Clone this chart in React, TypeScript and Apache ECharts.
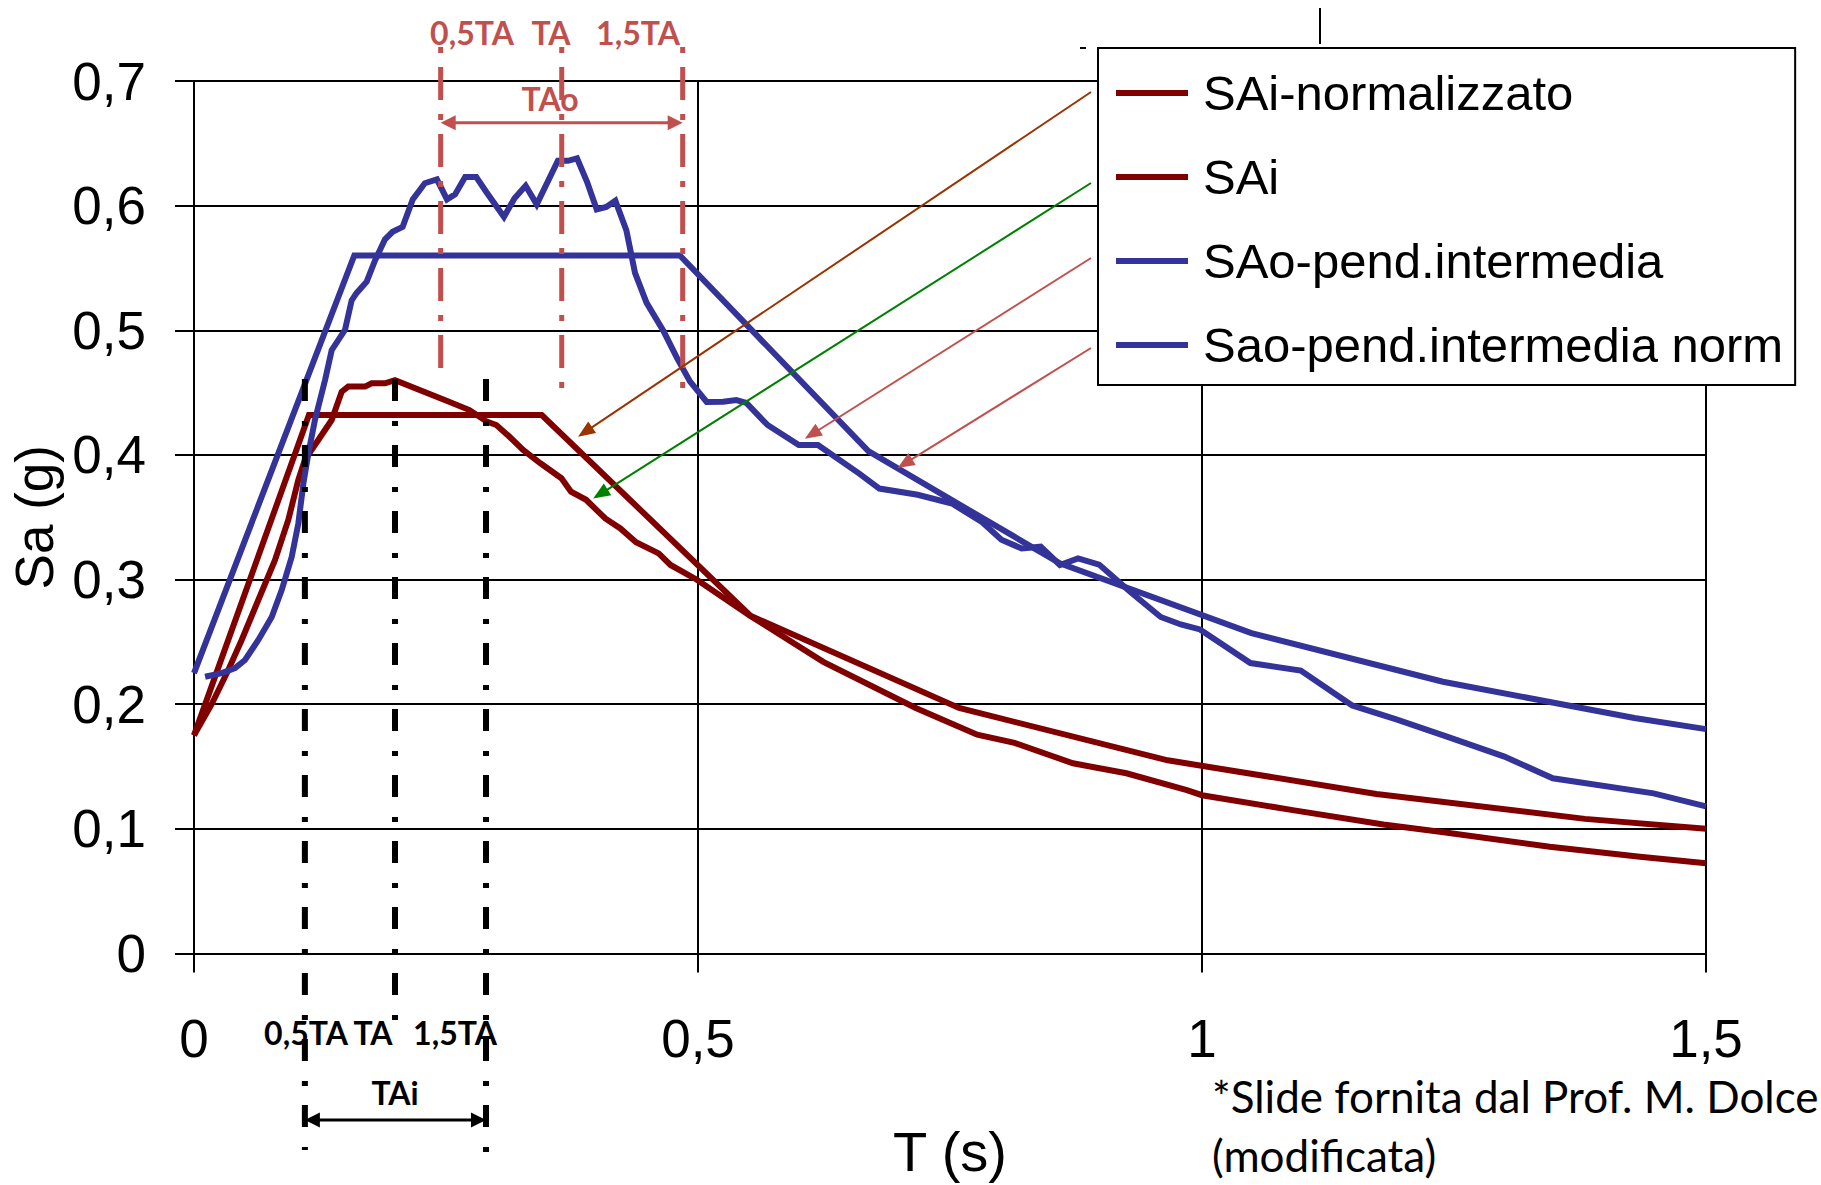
import { useEffect, useRef } from 'react';
import * as echarts from 'echarts';

// ---- axis ticks ----
const xTickValues = [0, 0.5, 1, 1.5];
const xTickLabels = ['0', '0,5', '1', '1,5'];
const yTickValues = [0, 0.1, 0.2, 0.3, 0.4, 0.5, 0.6, 0.7];
const yTickLabels = ['0', '0,1', '0,2', '0,3', '0,4', '0,5', '0,6', '0,7'];

// ---- series ----
const seriesNames = ['SAi-normalizzato', 'SAi', 'SAo-pend.intermedia', 'Sao-pend.intermedia norm'];
const seriesColors = ['#800000', '#800000', '#333399', '#333399'];

const saiNormT = [0, 0.114, 0.345, 0.552, 0.759, 0.966, 1.173, 1.38, 1.5];
const saiNormV = [0.175, 0.432, 0.432, 0.271, 0.197, 0.155, 0.128, 0.108, 0.1];

const saiT = [0, 0.0175, 0.034, 0.0473, 0.0638, 0.0804, 0.0936, 0.1035, 0.11, 0.1233,
  0.1366, 0.1465, 0.153, 0.1696, 0.1763, 0.1895, 0.1994, 0.2487, 0.2733, 0.2905,
  0.3, 0.313, 0.3265, 0.3437, 0.3645, 0.374, 0.389, 0.408, 0.423, 0.4385,
  0.461, 0.4727, 0.4993, 0.5516, 0.6243, 0.716, 0.777, 0.814, 0.872, 0.925,
  0.985, 1.0, 1.09, 1.18, 1.236, 1.345, 1.4345, 1.5];
const saiV = [0.175, 0.2, 0.2275, 0.2515, 0.2836, 0.3157, 0.348, 0.38, 0.396, 0.412,
  0.428, 0.4507, 0.4548, 0.4548, 0.4575, 0.4575, 0.46, 0.444, 0.436, 0.4267,
  0.424, 0.4146, 0.404, 0.3933, 0.3813, 0.3705, 0.364, 0.349, 0.341, 0.33,
  0.321, 0.3117, 0.2997, 0.271, 0.234, 0.197, 0.1755, 0.169, 0.1526, 0.1446,
  0.131, 0.127, 0.115, 0.1035, 0.0977, 0.0857, 0.0777, 0.0724];

const saoT = [0.011, 0.0275, 0.0407, 0.0506, 0.0638, 0.0771, 0.087, 0.0969, 0.1035, 0.1085,
  0.1134, 0.12, 0.13, 0.1366, 0.1498, 0.1564, 0.1614, 0.1713, 0.1796, 0.1895,
  0.197, 0.207, 0.217, 0.229, 0.241, 0.251, 0.259, 0.269, 0.28, 0.29,
  0.3075, 0.318, 0.329, 0.34, 0.361, 0.371, 0.38, 0.39, 0.3995, 0.409,
  0.418, 0.429, 0.4375, 0.449, 0.466, 0.479, 0.492, 0.5086, 0.525, 0.538,
  0.548, 0.569, 0.6, 0.619, 0.66, 0.68, 0.718, 0.752, 0.782, 0.801,
  0.821, 0.84, 0.859, 0.877, 0.898, 0.929, 0.959, 0.979, 0.998, 1.048,
  1.098, 1.149, 1.192, 1.243, 1.3, 1.348, 1.448, 1.5];
const saoV = [0.222, 0.225, 0.229, 0.2355, 0.2515, 0.27, 0.2916, 0.318, 0.345, 0.377,
  0.401, 0.428, 0.46, 0.484, 0.5003, 0.524, 0.53, 0.539, 0.556, 0.573,
  0.579, 0.583, 0.605, 0.618, 0.621, 0.605, 0.609, 0.623, 0.623, 0.611,
  0.591, 0.606, 0.616, 0.601, 0.636, 0.636, 0.638, 0.619, 0.597, 0.599,
  0.604, 0.58, 0.546, 0.522, 0.499, 0.478, 0.459, 0.4425, 0.4427, 0.444,
  0.4417, 0.424, 0.408, 0.408, 0.385, 0.373, 0.368, 0.361, 0.346, 0.332,
  0.325, 0.3264, 0.3117, 0.317, 0.312, 0.29, 0.27, 0.264, 0.26, 0.233,
  0.227, 0.199, 0.188, 0.174, 0.158, 0.1406, 0.1285, 0.118];

const saoNormT = [0, 0.159, 0.482, 0.669, 0.859, 1.049, 1.239, 1.429, 1.5];
const saoNormV = [0.225, 0.56, 0.56, 0.403, 0.313, 0.257, 0.218, 0.189, 0.18];

// ---- annotations ----
const taoMarkerT = [0.2447, 0.3648, 0.4848];
const taoLabels = ['0,5TA', 'TA', '1,5TA'];
const taiMarkerT = [0.11, 0.1994, 0.2897];
const taiLabels = ['0,5TA', 'TA', '1,5TA'];
const pointerTips = [[0.381, 0.4146], [0.396, 0.365], [0.606, 0.413], [0.698, 0.3895]];
const pointerColors = ['#993300', '#008000', '#C0504D', '#C0504D'];

const ANNO_RED = '#C0504D';
const AXIS_FONT = "'Liberation Sans', Arial, sans-serif";
const NOTE_FONT = "Lato, 'Open Sans', sans-serif";

const zip = (t: number[], v: number[]) => t.map((x, i) => [x, v[i]]);
const fmt = (vals: number[], labels: string[]) => (v: number) => {
  const i = vals.findIndex((t) => Math.abs(t - v) < 1e-9);
  return i >= 0 ? labels[i] : '';
};

function arrowHead(tip: number[], from: number[], len: number, halfW: number, color: string) {
  const dx = tip[0] - from[0];
  const dy = tip[1] - from[1];
  const d = Math.hypot(dx, dy) || 1;
  const ux = dx / d, uy = dy / d;
  const bx = tip[0] - ux * len, by = tip[1] - uy * len;
  const nx = -uy, ny = ux;
  return {
    type: 'polygon',
    shape: { points: [[tip[0], tip[1]], [bx + nx * halfW, by + ny * halfW], [bx - nx * halfW, by - ny * halfW]] },
    style: { fill: color },
    z: 20,
  };
}

export default function App() {
  const ref = useRef<HTMLDivElement>(null);
  useEffect(() => {
    if (!ref.current) return;
    const chart = echarts.init(ref.current, null, { renderer: 'svg' });
    const dataSets = [zip(saiNormT, saiNormV), zip(saiT, saiV), zip(saoT, saoV), zip(saoNormT, saoNormV)];
    chart.setOption({
      animation: false,
      backgroundColor: '#ffffff',
      grid: { left: 194, top: 81, width: 1512, height: 872.5, containLabel: false, outerBoundsMode: 'none' },
      xAxis: {
        type: 'value', min: 0, max: 1.5, interval: 0.5,
        name: 'T (s)', nameLocation: 'middle', nameGap: 170,
        nameTextStyle: { fontSize: 56, fontFamily: AXIS_FONT, color: '#000' },
        axisLine: { show: true, lineStyle: { color: '#000', width: 2 } },
        axisTick: { show: true, inside: false, length: 19, lineStyle: { color: '#000', width: 2 } },
        axisLabel: { margin: 58, fontSize: 53, fontFamily: AXIS_FONT, color: '#000', formatter: fmt(xTickValues, xTickLabels) },
        splitLine: { show: true, lineStyle: { color: '#000', width: 2 } },
      },
      yAxis: {
        type: 'value', min: 0, max: 0.7, interval: 0.1,
        name: 'Sa (g)', nameLocation: 'middle', nameGap: 128,
        nameTextStyle: { fontSize: 53, fontFamily: AXIS_FONT, color: '#000' },
        axisLine: { show: true, lineStyle: { color: '#000', width: 2 } },
        axisTick: { show: true, inside: false, length: 19, lineStyle: { color: '#000', width: 2 } },
        axisLabel: { margin: 48, fontSize: 53, fontFamily: AXIS_FONT, color: '#000', formatter: fmt(yTickValues, yTickLabels) },
        splitLine: { show: true, lineStyle: { color: '#000', width: 2 } },
      },
      legend: {
        orient: 'vertical', left: 1098, top: 48,
        itemWidth: 72, itemHeight: 6, itemGap: 34, icon: 'rect',
        padding: [20, 12, 15, 18],
        backgroundColor: '#ffffff', borderColor: '#000', borderWidth: 2,
        selectedMode: false,
        textStyle: { fontSize: 49, fontFamily: AXIS_FONT, color: '#000', lineHeight: 50, padding: [0, 0, 0, 10] },
        data: seriesNames,
      },
      series: seriesNames.map((name, i) => ({
        name, type: 'line', data: dataSets[i], symbol: 'none', showSymbol: false,
        color: seriesColors[i],
        lineStyle: { color: seriesColors[i], width: 6, join: 'miter' },
        z: 3,
      })),
    });

    const P = (t: number, v: number) => chart.convertToPixel({ gridIndex: 0 }, [t, v]) as number[];
    const gx = (t: number) => P(t, 0)[0];
    const els: any[] = [];

    // red dash-dot markers (TAo)
    const taoBottom = [378, 393, 393];
    taoMarkerT.forEach((t, i) => {
      const x = gx(t);
      els.push({ type: 'line', shape: { x1: x, y1: 47, x2: x, y2: taoBottom[i] },
        style: { stroke: ANNO_RED, lineWidth: 5, lineDash: [6, 14, 33, 14] }, z: 10 });
    });
    const taoLabelX = [472, 551, 638];
    taoLabels.forEach((s, i) => {
      els.push({ type: 'text', x: taoLabelX[i], y: 32, z: 11,
        style: { text: s, fill: ANNO_RED, fontSize: 32, fontWeight: 'bold', fontFamily: NOTE_FONT, align: 'center', verticalAlign: 'middle' } });
    });
    els.push({ type: 'text', x: 550, y: 98, z: 11,
      style: { text: 'TAo', fill: ANNO_RED, fontSize: 32, fontWeight: 'bold', fontFamily: NOTE_FONT, align: 'center', verticalAlign: 'middle' } });
    {
      const xa = gx(taoMarkerT[0]), xb = gx(taoMarkerT[2]), y = 122.7;
      els.push({ type: 'line', shape: { x1: xa + 12, y1: y, x2: xb - 12, y2: y }, style: { stroke: ANNO_RED, lineWidth: 3 }, z: 12 });
      els.push(arrowHead([xa, y], [xb, y], 15, 7.5, ANNO_RED));
      els.push(arrowHead([xb, y], [xa, y], 15, 7.5, ANNO_RED));
    }

    // black dash-dot markers (TAi)
    const taiBottom = [1150, 1020, 1152];
    taiMarkerT.forEach((t, i) => {
      const x = gx(t);
      els.push({ type: 'line', shape: { x1: x, y1: 379, x2: x, y2: taiBottom[i] },
        style: { stroke: '#000', lineWidth: 6, lineDash: [22, 20, 5, 19] }, z: 10 });
    });
    const taiLabelX = [306, 373, 455];
    taiLabels.forEach((s, i) => {
      els.push({ type: 'text', x: taiLabelX[i], y: 1032.5, z: 11,
        style: { text: s, fill: '#000', fontSize: 32, fontWeight: 'bold', fontFamily: NOTE_FONT, align: 'center', verticalAlign: 'middle' } });
    });
    els.push({ type: 'text', x: 395, y: 1092.5, z: 11,
      style: { text: 'TAi', fill: '#000', fontSize: 32, fontWeight: 'bold', fontFamily: NOTE_FONT, align: 'center', verticalAlign: 'middle' } });
    {
      const xa = gx(taiMarkerT[0]), xb = gx(taiMarkerT[2]), y = 1120;
      els.push({ type: 'line', shape: { x1: xa + 12, y1: y, x2: xb - 12, y2: y }, style: { stroke: '#000', lineWidth: 3 }, z: 12 });
      els.push(arrowHead([xa, y], [xb, y], 15, 7.5, '#000'));
      els.push(arrowHead([xb, y], [xa, y], 15, 7.5, '#000'));
    }

    // pointer arrows from legend
    const pointerStartY = [92, 183, 258, 348];
    pointerTips.forEach((tp, i) => {
      const tip = P(tp[0], tp[1]);
      const from = [1091, pointerStartY[i]];
      const d = Math.hypot(tip[0] - from[0], tip[1] - from[1]);
      const ux = (tip[0] - from[0]) / d, uy = (tip[1] - from[1]) / d;
      els.push({ type: 'line', shape: { x1: from[0], y1: from[1], x2: tip[0] - ux * 14, y2: tip[1] - uy * 14 },
        style: { stroke: pointerColors[i], lineWidth: 2 }, z: 15 });
      els.push(arrowHead(tip, from, 17, 7, pointerColors[i]));
    });

    // crop artefacts at top
    els.push({ type: 'line', shape: { x1: 1320, y1: 8, x2: 1320, y2: 44 }, style: { stroke: '#000', lineWidth: 2 }, z: 5 });
    els.push({ type: 'line', shape: { x1: 1080, y1: 48, x2: 1086, y2: 48 }, style: { stroke: '#000', lineWidth: 2 }, z: 5 });

    // footnote
    els.push({ type: 'text', x: 1212, y: 1096, z: 11,
      style: { text: '*Slide fornita dal Prof. M. Dolce', fill: '#000', fontSize: 44, fontFamily: NOTE_FONT, align: 'left', verticalAlign: 'middle' } });
    els.push({ type: 'text', x: 1212, y: 1155, z: 11,
      style: { text: '(modificata)', fill: '#000', fontSize: 44, fontFamily: NOTE_FONT, align: 'left', verticalAlign: 'middle' } });

    chart.setOption({ graphic: { elements: els } });
    return () => chart.dispose();
  }, []);
  return <div ref={ref} style={{ position: 'absolute', left: 0, top: 0, width: 1821, height: 1185, background: '#fff' }} />;
}
